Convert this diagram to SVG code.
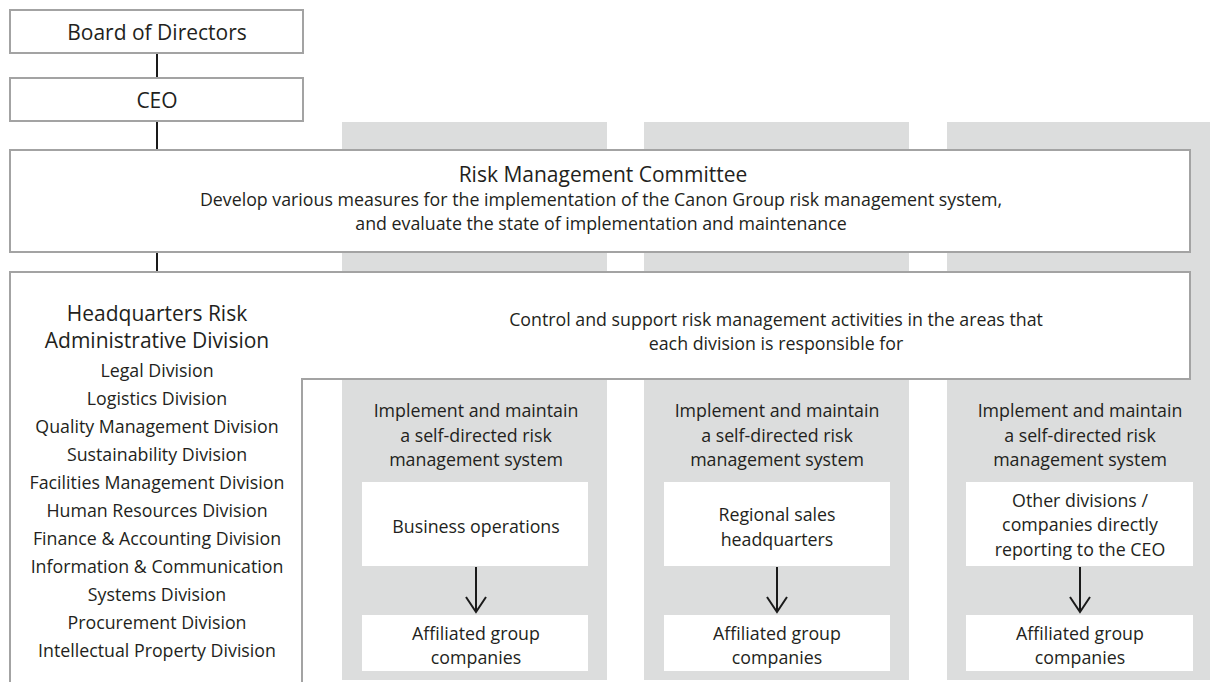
<svg xmlns="http://www.w3.org/2000/svg" width="1210" height="682" viewBox="0 0 1210 682">
  <defs>
    <style>
      .box { fill: #ffffff; stroke: #a3a3a3; stroke-width: 2; }
      .col { fill: #dcdddd; }
      .inner { fill: #ffffff; }
      .link { stroke: #1a1a1a; stroke-width: 2; fill: none; }
      text { font-family: "Open Sans", "Noto Sans", "Liberation Sans", sans-serif; fill: #231f20; text-anchor: middle; }
      .title { font-size: 21px; }
      .body { font-size: 17.8px; }
    </style>
    <!-- open V arrowhead, drawn pointing along +x so auto orientation follows the line -->
    <marker id="vhead" markerWidth="18" markerHeight="22" refX="16" refY="11" orient="auto" markerUnits="userSpaceOnUse" viewBox="0 0 18 22">
      <path d="M1,1 L16,11 L1,21" fill="none" stroke="#1a1a1a" stroke-width="2"/>
    </marker>
  </defs>

  <!-- gray column backgrounds -->
  <g id="columns">
    <rect class="col" x="342" y="122" width="265" height="558"/>
    <rect class="col" x="644" y="122" width="265" height="558"/>
    <rect class="col" x="947" y="122" width="263" height="558"/>
  </g>

  <!-- connectors -->
  <g id="connectors">
    <line class="link" x1="157" y1="53" x2="157" y2="78"/>
    <line class="link" x1="157" y1="121" x2="157" y2="150"/>
    <line class="link" x1="157" y1="252" x2="157" y2="272"/>
    <line class="link" x1="476" y1="567" x2="476" y2="612" marker-end="url(#vhead)"/>
    <line class="link" x1="777" y1="567" x2="777" y2="612" marker-end="url(#vhead)"/>
    <line class="link" x1="1080" y1="567" x2="1080" y2="612" marker-end="url(#vhead)"/>
  </g>

  <g id="board">
    <rect class="box" x="10" y="10" width="293" height="43"/>
    <text class="title" x="157" y="39.5">Board of Directors</text>
  </g>

  <g id="ceo">
    <rect class="box" x="10" y="78" width="293" height="43"/>
    <text class="title" x="157" y="107.5">CEO</text>
  </g>

  <g id="committee">
    <rect class="box" x="10" y="150" width="1180" height="102"/>
    <text class="title" x="603" y="182">Risk Management Committee</text>
    <text class="body" x="601" y="205.5">Develop various measures for the implementation of the Canon Group risk management system,</text>
    <text class="body" x="601" y="230">and evaluate the state of implementation and maintenance</text>
  </g>

  <g id="hq">
    <path class="box" d="M10,684 L10,272 L1190,272 L1190,379 L302,379 L302,684"/>
    <text class="title" x="157" y="320.5">Headquarters Risk</text>
    <text class="title" x="157" y="347.5">Administrative Division</text>
    <text class="body" x="157" y="376.5">Legal Division</text>
    <text class="body" x="157" y="404.5">Logistics Division</text>
    <text class="body" x="157" y="432.5">Quality Management Division</text>
    <text class="body" x="157" y="460.5">Sustainability Division</text>
    <text class="body" x="157" y="488.5">Facilities Management Division</text>
    <text class="body" x="157" y="516.5">Human Resources Division</text>
    <text class="body" x="157" y="544.5">Finance &amp; Accounting Division</text>
    <text class="body" x="157" y="572.5">Information &amp; Communication</text>
    <text class="body" x="157" y="600.5">Systems Division</text>
    <text class="body" x="157" y="628.5">Procurement Division</text>
    <text class="body" x="157" y="656.5">Intellectual Property Division</text>
    <text class="body" x="776" y="325.5">Control and support risk management activities in the areas that</text>
    <text class="body" x="776" y="350">each division is responsible for</text>
  </g>

  <g id="unit-business">
    <text class="body" x="476" y="417">Implement and maintain</text>
    <text class="body" x="476" y="441.5">a self-directed risk</text>
    <text class="body" x="476" y="466">management system</text>
    <rect class="inner" x="362" y="482" width="226" height="84"/>
    <text class="body" x="476" y="533">Business operations</text>
    <rect class="inner" x="362" y="615" width="226" height="56"/>
    <text class="body" x="476" y="639.5">Affiliated group</text>
    <text class="body" x="476" y="664">companies</text>
  </g>

  <g id="unit-sales">
    <text class="body" x="777" y="417">Implement and maintain</text>
    <text class="body" x="777" y="441.5">a self-directed risk</text>
    <text class="body" x="777" y="466">management system</text>
    <rect class="inner" x="664" y="482" width="226" height="84"/>
    <text class="body" x="777" y="521">Regional sales</text>
    <text class="body" x="777" y="545.5">headquarters</text>
    <rect class="inner" x="664" y="615" width="226" height="56"/>
    <text class="body" x="777" y="639.5">Affiliated group</text>
    <text class="body" x="777" y="664">companies</text>
  </g>

  <g id="unit-other">
    <text class="body" x="1080" y="417">Implement and maintain</text>
    <text class="body" x="1080" y="441.5">a self-directed risk</text>
    <text class="body" x="1080" y="466">management system</text>
    <rect class="inner" x="966" y="482" width="227" height="84"/>
    <text class="body" x="1080" y="506.5">Other divisions /</text>
    <text class="body" x="1080" y="531">companies directly</text>
    <text class="body" x="1080" y="555.5">reporting to the CEO</text>
    <rect class="inner" x="966" y="615" width="227" height="56"/>
    <text class="body" x="1080" y="639.5">Affiliated group</text>
    <text class="body" x="1080" y="664">companies</text>
  </g>
</svg>
